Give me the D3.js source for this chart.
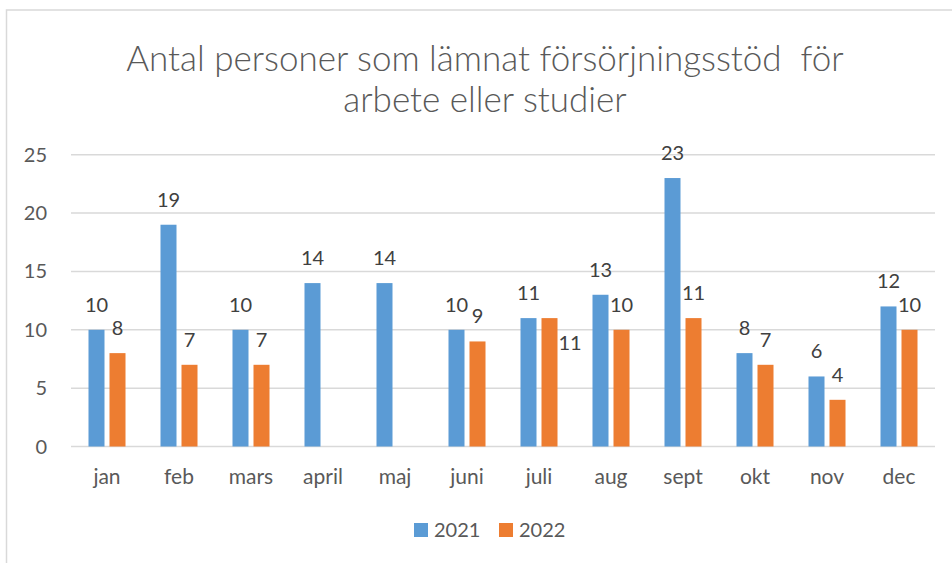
<!DOCTYPE html>
<html>
<head>
<meta charset="utf-8">
<script src="https://cdn.jsdelivr.net/npm/d3@7"></script>
<style>
  body { margin: 0; background: #fff; }
  svg { display: block; font-family: Lato, "Open Sans", sans-serif; }
</style>
</head>
<body>
<svg id="chart"></svg>
<script>
// chart data
const months = ["jan", "feb", "mars", "april", "maj", "juni", "juli", "aug", "sept", "okt", "nov", "dec"];
const values2021 = [10, 19, 10, 14, 14, 10, 11, 13, 23, 8, 6, 12];
const values2022 = [8, 7, 7, null, null, 9, 11, 10, 11, 7, 4, 10];
const seriesNames = ["2021", "2022"];
const yTicks = [0, 5, 10, 15, 20, 25];
const titleLines = ["Antal personer som lämnat försörjningsstöd  för", "arbete eller studier"];

const width = 952;
const height = 563;
const colors = ["#5B9BD5", "#ED7D31"];

const svg = d3.select("#chart").attr("width", width).attr("height", height);

// outer chart frame (cut off at right / bottom like the screenshot)
svg.append("rect")
  .attr("x", 6.5).attr("y", 10)
  .attr("width", width + 10).attr("height", height + 10)
  .attr("fill", "none").attr("stroke", "#d9d9d9").attr("stroke-width", 1.5);

// title
svg.append("g")
  .selectAll("text")
  .data(titleLines)
  .join("text")
  .attr("x", 485)
  .attr("y", (d, i) => 71 + i * 41)
  .attr("text-anchor", "middle")
  .attr("fill", "#595959")
  .style("font-size", "35px")
  .style("font-weight", 300)
  .style("white-space", "pre")
  .text((d) => d);

// scales
const x0 = d3.scaleBand().domain(months).range([71, 935]).paddingInner(0.486).paddingOuter(0.243);
const x1 = d3.scaleBand().domain(seriesNames).range([0, x0.bandwidth()]).paddingInner(0.238);
const y = d3.scaleLinear().domain([0, 25]).range([446.5, 154.7]);

// gridlines
svg.append("g")
  .selectAll("line")
  .data(yTicks)
  .join("line")
  .attr("x1", 71).attr("x2", 935)
  .attr("y1", (d) => y(d)).attr("y2", (d) => y(d))
  .attr("stroke", "#d9d9d9").attr("stroke-width", 1.5);

// y tick labels
svg.append("g")
  .selectAll("text")
  .data(yTicks)
  .join("text")
  .attr("x", 47)
  .attr("y", (d) => y(d) + 7)
  .attr("text-anchor", "end")
  .attr("fill", "#595959")
  .style("font-size", "20px")
  .text((d) => d);

// x labels
svg.append("g")
  .selectAll("text")
  .data(months)
  .join("text")
  .attr("x", (d) => x0(d) + x0.bandwidth() / 2)
  .attr("y", 484)
  .attr("text-anchor", "middle")
  .attr("fill", "#595959")
  .style("font-size", "21px")
  .text((d) => d);

// flatten to bars
const bars = [];
months.forEach((m, i) => {
  [values2021[i], values2022[i]].forEach((v, s) => {
    if (v != null) bars.push({ month: m, series: seriesNames[s], s: s, value: v, other: s === 1 ? values2021[i] : null });
  });
});

svg.append("g")
  .selectAll("rect")
  .data(bars)
  .join("rect")
  .attr("x", (d) => x0(d.month) + x1(d.series))
  .attr("y", (d) => y(d.value))
  .attr("width", x1.bandwidth())
  .attr("height", (d) => y(0) - y(d.value))
  .attr("fill", (d) => colors[d.s]);

// data labels, the 2022 label goes beside the bar when it would overlap the 2021 one
const beside = (d) => d.s === 1 && d.other === d.value;
svg.append("g")
  .selectAll("text")
  .data(bars)
  .join("text")
  .attr("x", (d) => {
    const bx = x0(d.month) + x1(d.series);
    return beside(d) ? bx + x1.bandwidth() + 1 : bx + x1.bandwidth() / 2;
  })
  .attr("y", (d) => beside(d) ? y(d.value) + 32 : y(d.value) - 18)
  .attr("text-anchor", (d) => beside(d) ? "start" : "middle")
  .attr("fill", "#404040")
  .style("font-size", "20px")
  .text((d) => d.value);

// legend
const legend = svg.append("g")
  .selectAll("g")
  .data(seriesNames)
  .join("g")
  .attr("transform", (d, i) => `translate(${414 + i * 85}, 523)`);

legend.append("rect")
  .attr("width", 14).attr("height", 14)
  .attr("fill", (d, i) => colors[i]);

legend.append("text")
  .attr("x", 20).attr("y", 14)
  .attr("fill", "#595959")
  .style("font-size", "20px")
  .text((d) => d);
</script>
</body>
</html>
